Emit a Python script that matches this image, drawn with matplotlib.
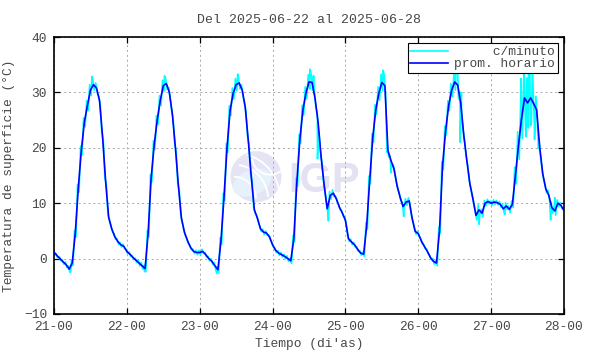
import datetime as dt
import matplotlib
matplotlib.use("Agg")
import matplotlib.pyplot as plt
import matplotlib.dates as mdates
from matplotlib.patches import Ellipse, Arc

# ---------------- data ----------------
titulo = "Del 2025-06-22 al 2025-06-28"
inicio = dt.datetime(2025, 6, 21, 0, 0)
dias_ticks = ["21-00", "22-00", "23-00", "24-00", "25-00", "26-00", "27-00", "28-00"]

# hourly average (prom. horario), one list per day, 24 values each
prom_21 = [1.2, 0.5, 0.0, -0.6, -1.1, -1.9, -0.8, 4.5, 12.7, 19.5, 24.6, 27.6,
           30.4, 31.4, 30.8, 28.5, 22.0, 14.0, 7.5, 5.4, 4.0, 3.1, 2.5, 2.2]
prom_22 = [1.3, 0.8, 0.2, -0.3, -0.8, -1.3, -1.8, 4.5, 14.5, 20.5, 25.0, 28.5,
           31.2, 31.6, 30.0, 26.0, 20.0, 13.0, 7.2, 4.7, 3.2, 2.0, 1.3, 1.1]
prom_23 = [1.1, 1.3, 0.7, 0.0, -0.5, -1.3, -2.0, 3.2, 11.1, 20.0, 26.7, 29.8,
           31.4, 31.7, 30.4, 27.3, 21.3, 14.7, 8.8, 7.3, 5.4, 4.8, 4.6, 3.9]
prom_24 = [2.5, 1.5, 1.0, 0.7, 0.4, 0.0, -0.4, 3.6, 13.8, 21.6, 26.8, 29.9,
           31.9, 31.8, 28.9, 24.6, 18.3, 13.2, 9.0, 11.4, 11.8, 10.8, 9.3, 8.2]
prom_25 = [6.9, 3.6, 3.0, 2.5, 1.7, 1.0, 0.8, 5.9, 14.2, 21.8, 26.9, 29.8,
           31.8, 31.2, 19.5, 17.7, 16.2, 13.2, 11.1, 9.4, 10.2, 10.4, 7.2, 4.9]
prom_26 = [4.5, 3.2, 2.2, 1.3, 0.2, -0.5, -0.8, 5.1, 16.8, 23.1, 27.6, 30.4,
           31.9, 31.3, 28.0, 22.2, 17.7, 13.5, 10.8, 7.8, 8.8, 8.2, 10.0, 10.3]
prom_27 = [10.0, 10.2, 10.1, 9.8, 9.0, 9.5, 8.9, 9.8, 15.0, 20.4, 25.2, 29.0,
           28.1, 29.0, 28.0, 26.8, 20.1, 15.3, 12.6, 11.4, 9.2, 8.6, 10.0, 9.6]
prom_28_00 = 8.7

# half-range of the per-minute readings around each hourly value
rango_21 = [0.5, 0.4, 0.4, 0.4, 0.5, 0.6, 0.5, 0.6, 0.7, 0.8, 0.8, 0.9,
            1.0, 1.0, 0.9, 0.8, 0.7, 0.6, 0.6, 0.5, 0.5, 0.5, 0.4, 0.4]
rango_22 = [0.4, 0.4, 0.4, 0.4, 0.5, 0.6, 0.6, 0.6, 0.7, 0.8, 0.8, 0.9,
            1.0, 1.0, 0.9, 0.8, 0.7, 0.6, 0.6, 0.5, 0.5, 0.4, 0.4, 0.4]
rango_23 = [0.4, 0.4, 0.4, 0.4, 0.5, 0.6, 0.6, 0.6, 0.7, 0.8, 0.9, 1.0,
            1.1, 1.1, 1.0, 0.9, 0.8, 0.6, 0.6, 0.5, 0.5, 0.5, 0.4, 0.4]
rango_24 = [0.4, 0.4, 0.4, 0.4, 0.4, 0.5, 0.5, 0.6, 0.7, 0.8, 0.9, 1.1,
            1.3, 1.4, 1.6, 1.6, 1.0, 0.8, 0.9, 0.7, 0.6, 0.5, 0.5, 0.5]
rango_25 = [0.6, 0.5, 0.5, 0.4, 0.4, 0.4, 0.4, 0.6, 0.7, 0.8, 0.9, 1.2,
            1.5, 2.0, 1.2, 0.9, 0.8, 0.7, 0.7, 0.8, 0.6, 0.6, 0.6, 0.5]
rango_26 = [0.5, 0.5, 0.4, 0.4, 0.4, 0.5, 0.5, 0.6, 0.7, 0.8, 0.9, 1.2,
            1.5, 2.5, 2.0, 1.0, 0.8, 0.7, 0.7, 0.8, 0.9, 0.7, 0.5, 0.4]
rango_27 = [0.4, 0.4, 0.4, 0.5, 0.7, 0.6, 0.6, 0.6, 1.5, 2.5, 3.5, 4.0,
            4.5, 4.5, 4.0, 2.5, 1.5, 0.9, 0.7, 0.9, 1.0, 0.8, 0.6, 0.5]

# isolated extreme per-minute readings: (hours since 21-00, value)
picos_minuto = [
    (12.5, 32.9), (5.5, -2.4),
    (36.4, 33.0), (29.8, -2.3),
    (60.5, 33.3), (53.6, -2.7),
    (84.3, 34.2), (85.5, 33.0), (86.8, 18.0), (90.4, 6.8),
    (108.4, 34.0), (109.2, 30.0), (109.7, 19.2), (111.0, 15.5), (115.2, 7.6),
    (132.4, 34.0), (133.0, 33.5), (133.8, 21.0), (134.2, 30.0), (140.0, 6.2),
    (148.5, 8.0), (153.8, 32.5), (154.8, 35.0), (155.5, 22.0), (156.3, 35.0),
    (157.0, 24.0), (157.6, 34.5), (158.3, 21.5), (159.6, 19.8), (163.6, 7.0),
    (165.0, 11.0),
]

# ---------------- assemble series ----------------
prom = prom_21 + prom_22 + prom_23 + prom_24 + prom_25 + prom_26 + prom_27 + [prom_28_00]
rango = rango_21 + rango_22 + rango_23 + rango_24 + rango_25 + rango_26 + rango_27
horas = list(range(len(prom)))

base = mdates.date2num(inicio)
t_prom = [base + h / 24.0 for h in horas]

pts = []
for h, (v, r) in enumerate(zip(prom[:-1], rango)):
    pts.append((h - 0.25, v + r))
    pts.append((h + 0.25, v - r))
pts.extend(picos_minuto)
pts.sort()
pts = [(h, v) for h, v in pts if 0 <= h <= 168]
pts = [(0, prom[0])] + pts + [(168, prom[-1])]
t_min = [base + h / 24.0 for h, _ in pts]
v_min = [v for _, v in pts]

# ---------------- figure ----------------
W, H = 590, 354
fig = plt.figure(figsize=(W / 100, H / 100), dpi=100)
ax = fig.add_axes([54 / W, 1 - 314 / H, 510 / W, 277 / H])

mono = "Liberation Mono"
fs = 9.3
tcol = "#474747"

# watermark (IGP logo)
wz = 0.3
cx, cy, rr = 256 / W, 1 - 176.7 / H, 25.5
ax.add_patch(Ellipse((cx, cy), 2 * rr / W, 2 * rr / H, transform=fig.transFigure,
                     facecolor="#e4e4f5", edgecolor="none", zorder=wz, clip_on=False))
ax.add_patch(Ellipse((cx - 4 / W, cy - 6 / H), 34 / W, 30 / H, angle=-30,
                     transform=fig.transFigure, facecolor="#e6f1fc",
                     edgecolor="none", zorder=wz + 0.01, clip_on=False))
for (ox, oy, rw, a1, a2) in [(-22, -22, 46, 10, 80), (-22, -22, 34, 5, 85),
                             (-22, -22, 22, 0, 90), (14, 20, 18, 190, 300)]:
    ax.add_patch(Arc((cx + ox / W, cy + oy / H), 2 * rw / W, 2 * rw / H,
                     theta1=a1, theta2=a2, transform=fig.transFigure,
                     color="white", lw=1.3, zorder=wz + 0.02, clip_on=False))
ax.text(288 / W, 1 - 191.7 / H, "IGP", transform=fig.transFigure,
        fontsize=30, fontweight="bold", family="Liberation Sans",
        color="#e2e2f3", ha="left", va="baseline", zorder=wz)

l1, = ax.plot(t_min, v_min, color="#00ffff", lw=1.2, zorder=2,
              label="     c/minuto")
l2, = ax.plot(t_prom, prom, color="#0000ff", lw=1.2, zorder=3,
              label="prom. horario")

ax.set_xlim(base, base + 7)
ax.set_ylim(-10, 40)
ax.set_xticks([base + i for i in range(8)])
ax.set_xticklabels(dias_ticks)
ax.set_yticks(range(-10, 41, 10))

ax.set_axisbelow(True)
ax.grid(True, color="#a8a8a8", lw=0.7, linestyle=(0, (2, 3)))
ax.tick_params(direction="in", length=4, width=0.9, top=True, right=True,
               labelsize=fs, labelcolor=tcol, pad=5)
for lab in ax.get_xticklabels() + ax.get_yticklabels():
    lab.set_family(mono)
for s in ax.spines.values():
    s.set_linewidth(1.2)
    s.set_color("black")

ax.set_xlabel("Tiempo (di'as)", family=mono, fontsize=fs, color=tcol, labelpad=4)
ax.set_ylabel("Temperatura de superficie (\u00b0C)", family=mono, fontsize=fs,
              color=tcol, labelpad=6)
fig.text(309 / W, 1 - 20 / H, titulo, family=mono, fontsize=9.5, color=tcol,
         ha="center", va="center")

leg = ax.legend(handles=[l1, l2], loc="upper right", prop={"family": mono, "size": fs},
                frameon=True, fancybox=False, shadow=False, framealpha=1,
                edgecolor="black", borderpad=0.2, labelspacing=0.0,
                handlelength=2.9, handletextpad=0.5, borderaxespad=0.5)
leg.get_frame().set_linewidth(0.8)
for t in leg.get_texts():
    t.set_color(tcol)

fig.savefig("out.png", dpi=100)
